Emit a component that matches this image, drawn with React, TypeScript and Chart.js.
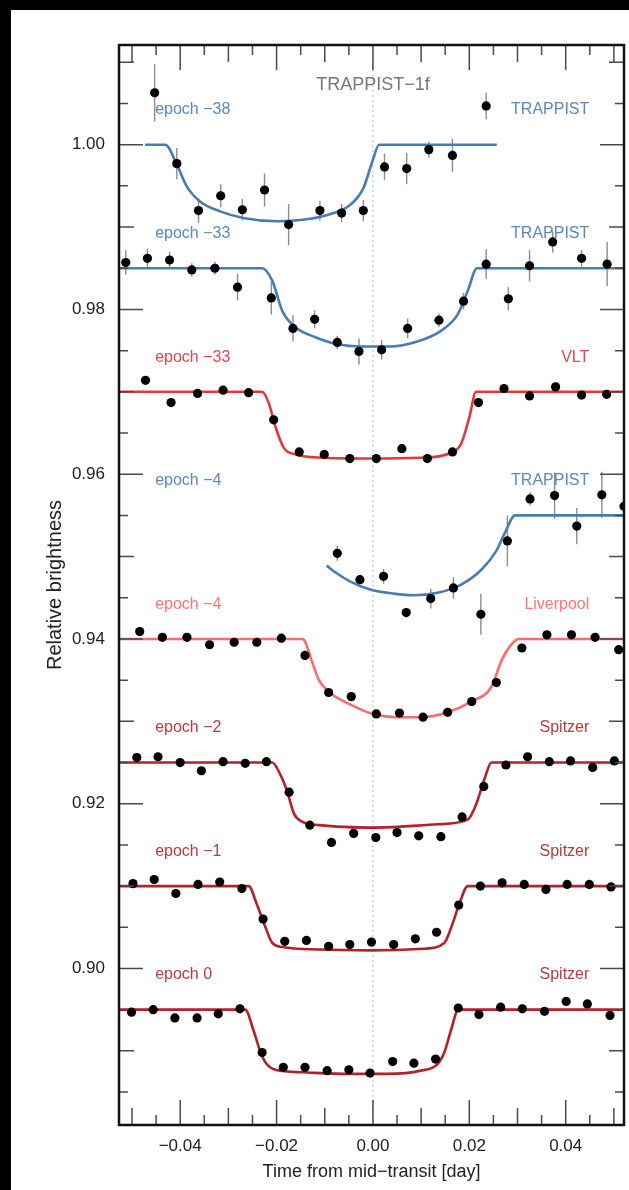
import React, { useEffect, useRef } from "react";
import { Chart, registerables } from "chart.js";

Chart.register(...registerables);

const FONT = "'Liberation Sans', Arial, Helvetica, sans-serif";

// ---- axis ----
const X_MIN = -0.0527;
const X_MAX = 0.0521;
const Y_MIN = 0.881;
const Y_MAX = 1.0121;
const X_TICKS = [-0.04, -0.02, 0.0, 0.02, 0.04];
const Y_TICKS = [0.9, 0.92, 0.94, 0.96, 0.98, 1.0];

// ---- epoch -38, TRAPPIST ----
const e38T = [-0.0453, -0.0407, -0.0362, -0.0316, -0.0271, -0.0225, -0.0175, -0.011, -0.0065, -0.002, 0.0024, 0.007, 0.0116, 0.0165, 0.0235];
const e38V = [1.0063, 0.9977, 0.992, 0.9938, 0.9921, 0.9945, 0.9903, 0.992, 0.9917, 0.992, 0.9973, 0.9971, 0.9994, 0.9987, 1.0047];
const e38Err = [0.0035, 0.0019, 0.0015, 0.0014, 0.0013, 0.002, 0.0025, 0.0012, 0.0011, 0.0013, 0.0016, 0.0019, 0.001, 0.002, 0.0016];
const e38ModelT = [-0.0473, -0.0431, -0.0407, -0.0386, -0.0359, -0.0317, -0.0269, -0.0199, -0.013, -0.0082, -0.0047, -0.002, -0.0002, 0.0013, 0.0257];
const e38ModelV = [1.0, 1.0, 0.9976, 0.9949, 0.9931, 0.9919, 0.9911, 0.9907, 0.991, 0.9917, 0.9927, 0.9947, 0.9978, 1.0, 1.0];

// ---- epoch -33, TRAPPIST ----
const e33tT = [-0.0513, -0.0468, -0.0422, -0.0376, -0.0328, -0.0281, -0.0211, -0.0166, -0.0121, -0.0074, -0.0029, 0.0018, 0.0072, 0.0137, 0.0188, 0.0235, 0.0281, 0.0325, 0.0373, 0.0433, 0.0486];
const e33tV = [0.9857, 0.9862, 0.986, 0.9848, 0.985, 0.9827, 0.9814, 0.9777, 0.9788, 0.976, 0.9749, 0.9751, 0.9777, 0.9787, 0.981, 0.9855, 0.9813, 0.9853, 0.9882, 0.9862, 0.9855];
const e33tErr = [0.0015, 0.0012, 0.001, 0.0008, 0.0008, 0.0016, 0.002, 0.0016, 0.0011, 0.0008, 0.0016, 0.0012, 0.0012, 0.0008, 0.001, 0.0018, 0.0014, 0.0019, 0.0013, 0.001, 0.0027];
const e33tModelT = [-0.0527, -0.023, -0.0209, -0.0188, -0.016, -0.0118, -0.0076, -0.002, 0.0036, 0.0092, 0.0141, 0.0176, 0.0197, 0.0216, 0.0521];
const e33tModelV = [0.985, 0.985, 0.9835, 0.9798, 0.9778, 0.9766, 0.9758, 0.9755, 0.9755, 0.9761, 0.9774, 0.9794, 0.9823, 0.985, 0.985];

// ---- epoch -33, VLT ----
const e33vT = [-0.0472, -0.0419, -0.0364, -0.0311, -0.0258, -0.0206, -0.0153, -0.0101, -0.0048, 0.0007, 0.006, 0.0113, 0.0165, 0.0219, 0.0272, 0.0325, 0.0379, 0.0433, 0.0485];
const e33vV = [0.9714, 0.9687, 0.9698, 0.9702, 0.9699, 0.9666, 0.9627, 0.9624, 0.9619, 0.9619, 0.9631, 0.9619, 0.9627, 0.9687, 0.9704, 0.9695, 0.9706, 0.9696, 0.9697];
const e33vModelT = [-0.0527, -0.023, -0.0216, -0.0202, -0.0185, -0.016, -0.0104, -0.0006, 0.0099, 0.0162, 0.0183, 0.02, 0.0214, 0.0521];
const e33vModelV = [0.97, 0.97, 0.9686, 0.9657, 0.9632, 0.9624, 0.962, 0.9619, 0.962, 0.9626, 0.9637, 0.9669, 0.97, 0.97];

// ---- epoch -4, TRAPPIST ----
const e4tT = [-0.0074, -0.0027, 0.0022, 0.0069, 0.012, 0.0167, 0.0224, 0.0279, 0.0326, 0.0377, 0.0423, 0.0475, 0.0521];
const e4tV = [0.9504, 0.9472, 0.9476, 0.9432, 0.9449, 0.9462, 0.943, 0.9519, 0.957, 0.9574, 0.9537, 0.9575, 0.9561];
const e4tErr = [0.0009, 0.0006, 0.0009, 0.0006, 0.0012, 0.0013, 0.0025, 0.0031, 0.0008, 0.0028, 0.0022, 0.0028, 0.001];
const e4tModelT = [-0.0096, -0.0076, -0.0048, -0.0006, 0.0043, 0.0085, 0.0134, 0.0183, 0.0225, 0.0256, 0.0274, 0.0295, 0.0521];
const e4tModelV = [0.9489, 0.948, 0.947, 0.946, 0.9455, 0.9453, 0.9456, 0.9466, 0.9484, 0.9507, 0.9529, 0.955, 0.955];

// ---- epoch -4, Liverpool ----
const e4lT = [-0.0484, -0.0437, -0.0386, -0.0339, -0.0288, -0.0241, -0.019, -0.0141, -0.0092, -0.0045, 0.0007, 0.0055, 0.0104, 0.0155, 0.0205, 0.0256, 0.0309, 0.0361, 0.0412, 0.0461, 0.051];
const e4lV = [0.9409, 0.9402, 0.9402, 0.9393, 0.9396, 0.9396, 0.9401, 0.938, 0.9335, 0.933, 0.9309, 0.931, 0.9305, 0.9311, 0.9324, 0.9347, 0.9389, 0.9405, 0.9405, 0.9402, 0.9387];
const e4lModelT = [-0.0527, -0.0146, -0.0125, -0.0112, -0.0092, -0.0045, -0.0006, 0.005, 0.0099, 0.0155, 0.0204, 0.0246, 0.0267, 0.0284, 0.0302, 0.0521];
const e4lModelV = [0.94, 0.94, 0.937, 0.935, 0.9336, 0.932, 0.931, 0.9305, 0.9305, 0.9311, 0.9324, 0.9342, 0.9374, 0.9391, 0.94, 0.94];

// ---- epoch -2, Spitzer ----
const e2T = [-0.049, -0.0446, -0.04, -0.0356, -0.0311, -0.0265, -0.0221, -0.0174, -0.0131, -0.0086, -0.004, 0.0006, 0.005, 0.0095, 0.0141, 0.0185, 0.023, 0.0276, 0.0321, 0.0366, 0.041, 0.0456, 0.0501];
const e2V = [0.9256, 0.9257, 0.925, 0.924, 0.9251, 0.9249, 0.9251, 0.9214, 0.9174, 0.9153, 0.9164, 0.9159, 0.9165, 0.9161, 0.916, 0.9184, 0.9221, 0.9247, 0.9257, 0.9251, 0.9252, 0.9244, 0.9252];
const e2ModelT = [-0.0527, -0.0209, -0.0192, -0.0178, -0.0164, -0.0146, -0.0111, 0.0008, 0.0134, 0.0197, 0.0214, 0.0232, 0.0246, 0.0521];
const e2ModelV = [0.925, 0.925, 0.9235, 0.9215, 0.9188, 0.9178, 0.9174, 0.9171, 0.9175, 0.9181, 0.9199, 0.9231, 0.925, 0.925];

// ---- epoch -1, Spitzer ----
const e1T = [-0.0498, -0.0454, -0.0409, -0.0363, -0.0318, -0.0272, -0.0228, -0.0183, -0.0138, -0.0092, -0.0048, -0.0003, 0.0043, 0.0088, 0.0132, 0.0178, 0.0223, 0.0268, 0.0314, 0.0359, 0.0403, 0.0449, 0.0494];
const e1V = [0.9103, 0.9108, 0.9091, 0.9102, 0.9105, 0.9097, 0.906, 0.9033, 0.9034, 0.9027, 0.9029, 0.9032, 0.9029, 0.9036, 0.9044, 0.9077, 0.91, 0.9104, 0.9102, 0.9096, 0.9102, 0.9102, 0.9099];
const e1ModelT = [-0.0527, -0.0258, -0.0241, -0.0223, -0.0209, -0.0188, -0.0111, -0.0006, 0.0106, 0.0148, 0.0165, 0.0179, 0.0197, 0.0521];
const e1ModelV = [0.91, 0.91, 0.9078, 0.905, 0.9031, 0.9026, 0.9023, 0.9022, 0.9024, 0.9031, 0.9054, 0.9078, 0.91, 0.91];

// ---- epoch 0, Spitzer ----
const e0T = [-0.0501, -0.0456, -0.0411, -0.0365, -0.0321, -0.0276, -0.023, -0.0186, -0.0141, -0.0095, -0.005, -0.0006, 0.0041, 0.0085, 0.013, 0.0177, 0.022, 0.0265, 0.031, 0.0356, 0.0401, 0.0445, 0.0492];
const e0V = [0.8947, 0.895, 0.894, 0.894, 0.8945, 0.8951, 0.8898, 0.888, 0.888, 0.8876, 0.8877, 0.8873, 0.8887, 0.8885, 0.889, 0.8952, 0.8944, 0.8953, 0.8951, 0.8948, 0.896, 0.8957, 0.8943];
const e0ModelT = [-0.0527, -0.0265, -0.0248, -0.0233, -0.0223, -0.0202, -0.0146, -0.005, 0.003, 0.0099, 0.0134, 0.0148, 0.0162, 0.0177, 0.0521];
const e0ModelV = [0.895, 0.895, 0.8925, 0.8898, 0.8886, 0.8877, 0.8874, 0.8872, 0.8872, 0.8876, 0.8884, 0.8898, 0.8925, 0.895, 0.895];

// ---- panel labels ----
const baselines = [1.0, 0.985, 0.97, 0.955, 0.94, 0.925, 0.91, 0.895];
const epochLabels = ["epoch \u221238", "epoch \u221233", "epoch \u221233", "epoch \u22124", "epoch \u22124", "epoch \u22122", "epoch \u22121", "epoch 0"];
const instrumentLabels = ["TRAPPIST", "TRAPPIST", "VLT", "TRAPPIST", "Liverpool", "Spitzer", "Spitzer", "Spitzer"];
const TITLE = "TRAPPIST\u22121f";

const BLUE = "#4a7cb4";
const VLT_RED = "#e2383b";
const LIV_RED = "#ff6a6a";
const SPZ_RED = "#b3222b";
const lineColors = [BLUE, BLUE, VLT_RED, BLUE, LIV_RED, SPZ_RED, SPZ_RED, SPZ_RED];
const textColors = ["#5a88c0", "#5a88c0", "#e2484a", "#5a88c0", "#ff7474", "#bb3a40", "#bb3a40", "#bb3a40"];

const panels = [
  { t: e38T, v: e38V, err: e38Err, mt: e38ModelT, mv: e38ModelV },
  { t: e33tT, v: e33tV, err: e33tErr, mt: e33tModelT, mv: e33tModelV },
  { t: e33vT, v: e33vV, err: null, mt: e33vModelT, mv: e33vModelV },
  { t: e4tT, v: e4tV, err: e4tErr, mt: e4tModelT, mv: e4tModelV },
  { t: e4lT, v: e4lV, err: null, mt: e4lModelT, mv: e4lModelV },
  { t: e2T, v: e2V, err: null, mt: e2ModelT, mv: e2ModelV },
  { t: e1T, v: e1V, err: null, mt: e1ModelT, mv: e1ModelV },
  { t: e0T, v: e0V, err: null, mt: e0ModelT, mv: e0ModelV },
];

const fmt = (v: number) => (v < -1e-9 ? "\u2212" : "") + Math.abs(v).toFixed(2);

const decorPlugin = {
  id: "decor",
  beforeDatasetsDraw(chart: any) {
    const { ctx, chartArea } = chart;
    const xs = chart.scales.x;
    const ys = chart.scales.y;
    ctx.save();
    ctx.beginPath();
    ctx.rect(chartArea.left, chartArea.top, chartArea.right - chartArea.left, chartArea.bottom - chartArea.top);
    ctx.clip();
    // dotted mid-transit line
    const x0 = xs.getPixelForValue(0);
    ctx.strokeStyle = "#b8b8b8";
    ctx.lineWidth = 1;
    ctx.setLineDash([2, 3]);
    ctx.beginPath();
    ctx.moveTo(x0, chartArea.top);
    ctx.lineTo(x0, chartArea.bottom);
    ctx.stroke();
    ctx.setLineDash([]);
    // error bars
    ctx.strokeStyle = "#8c8c8c";
    ctx.lineWidth = 1.4;
    panels.forEach((p) => {
      if (!p.err) return;
      p.t.forEach((t, i) => {
        const px = xs.getPixelForValue(t);
        ctx.beginPath();
        ctx.moveTo(px, ys.getPixelForValue(p.v[i] - p.err![i]));
        ctx.lineTo(px, ys.getPixelForValue(p.v[i] + p.err![i]));
        ctx.stroke();
      });
    });
    ctx.restore();
  },
  afterDatasetsDraw(chart: any) {
    const { ctx, chartArea } = chart;
    const { left, right, top, bottom } = chartArea;
    const xs = chart.scales.x;
    const ys = chart.scales.y;
    ctx.save();
    // ticks
    ctx.strokeStyle = "#4a4a4a";
    ctx.lineWidth = 1.5;
    for (let k = -12; k <= 12; k++) {
      const t = k * 0.005;
      const px = xs.getPixelForValue(t);
      if (px < left + 1 || px > right - 1) continue;
      const len = k % 4 === 0 ? 25 : k % 2 === 0 ? 17 : 10;
      ctx.beginPath();
      ctx.moveTo(px, bottom);
      ctx.lineTo(px, bottom - len);
      ctx.moveTo(px, top);
      ctx.lineTo(px, top + len);
      ctx.stroke();
    }
    for (let k = 170; k <= 210; k++) {
      const v = k * 0.005;
      const py = ys.getPixelForValue(v);
      if (py < top + 1 || py > bottom - 1) continue;
      const len = k % 4 === 0 ? 24 : k % 2 === 0 ? 15 : 9;
      ctx.beginPath();
      ctx.moveTo(left, py);
      ctx.lineTo(left + len, py);
      ctx.moveTo(right, py);
      ctx.lineTo(right - len, py);
      ctx.stroke();
    }
    // frame
    ctx.strokeStyle = "#111";
    ctx.lineWidth = 2.5;
    ctx.strokeRect(left, top, right - left, bottom - top);
    // labels
    ctx.textBaseline = "middle";
    ctx.font = `16px ${FONT}`;
    baselines.forEach((b, i) => {
      const py = ys.getPixelForValue(b + 0.0042);
      ctx.fillStyle = textColors[i];
      ctx.textAlign = "left";
      ctx.fillText(epochLabels[i], xs.getPixelForValue(-0.0452), py);
      ctx.textAlign = "right";
      ctx.fillText(instrumentLabels[i], xs.getPixelForValue(0.0449), py);
    });
    ctx.font = `18px ${FONT}`;
    ctx.fillStyle = "#777";
    ctx.textAlign = "center";
    ctx.fillText(TITLE, xs.getPixelForValue(0), ys.getPixelForValue(1.0073));
    ctx.restore();
  },
};

export default function App() {
  const ref = useRef<HTMLCanvasElement>(null);
  useEffect(() => {
    const canvas = ref.current;
    if (!canvas) return;
    const datasets: any[] = [];
    panels.forEach((p, i) => {
      datasets.push({
        type: "scatter",
        data: p.mt.map((t, j) => ({ x: t, y: p.mv[j] })),
        showLine: true,
        borderColor: lineColors[i],
        borderWidth: 2.6,
        pointRadius: 0,
        cubicInterpolationMode: "monotone",
        order: 2,
      });
      datasets.push({
        type: "scatter",
        data: p.t.map((t, j) => ({ x: t, y: p.v[j] })),
        backgroundColor: "#000",
        borderWidth: 0,
        pointRadius: 4.6,
        order: 1,
      });
    });
    const chart = new Chart(canvas, {
      type: "scatter",
      data: { datasets },
      options: {
        responsive: false,
        animation: false,
        devicePixelRatio: 1,
        layout: { padding: { top: 35, right: 5, left: 0, bottom: 0 } },
        plugins: { legend: { display: false }, tooltip: { enabled: false } },
        scales: {
          x: {
            type: "linear",
            min: X_MIN,
            max: X_MAX,
            grid: { display: false, drawTicks: false },
            border: { display: false },
            afterBuildTicks: (s: any) => {
              s.ticks = X_TICKS.map((v) => ({ value: v }));
            },
            afterFit: (s: any) => {
              s.height = 65;
            },
            ticks: {
              padding: 11,
              color: "#222",
              font: { family: FONT, size: 17 },
              maxRotation: 0,
              autoSkip: false,
              callback: (v: any) => fmt(Number(v)),
            },
            title: {
              display: true,
              text: "Time from mid\u2212transit [day]",
              color: "#222",
              font: { family: FONT, size: 18 },
              padding: { top: 0, bottom: 7 },
            },
          },
          y: {
            type: "linear",
            min: Y_MIN,
            max: Y_MAX,
            grid: { display: false, drawTicks: false },
            border: { display: false },
            afterBuildTicks: (s: any) => {
              s.ticks = Y_TICKS.map((v) => ({ value: v }));
            },
            afterFit: (s: any) => {
              s.width = 108;
            },
            ticks: {
              padding: 14,
              color: "#222",
              font: { family: FONT, size: 17 },
              autoSkip: false,
              callback: (v: any) => fmt(Number(v)),
            },
            title: {
              display: true,
              text: "Relative brightness",
              color: "#222",
              font: { family: FONT, size: 20 },
              padding: { top: 32, bottom: 0 },
            },
          },
        },
      },
      plugins: [decorPlugin],
    } as any);
    return () => chart.destroy();
  }, []);
  return (
    <div style={{ position: "fixed", left: 0, top: 0, width: 629, height: 1190, background: "#000", overflow: "hidden" }}>
      <div style={{ position: "absolute", left: 11, top: 10, width: 618, height: 1180, background: "#fff" }}>
        <canvas ref={ref} width={618} height={1180} style={{ display: "block", width: 618, height: 1180 }} />
      </div>
    </div>
  );
}
